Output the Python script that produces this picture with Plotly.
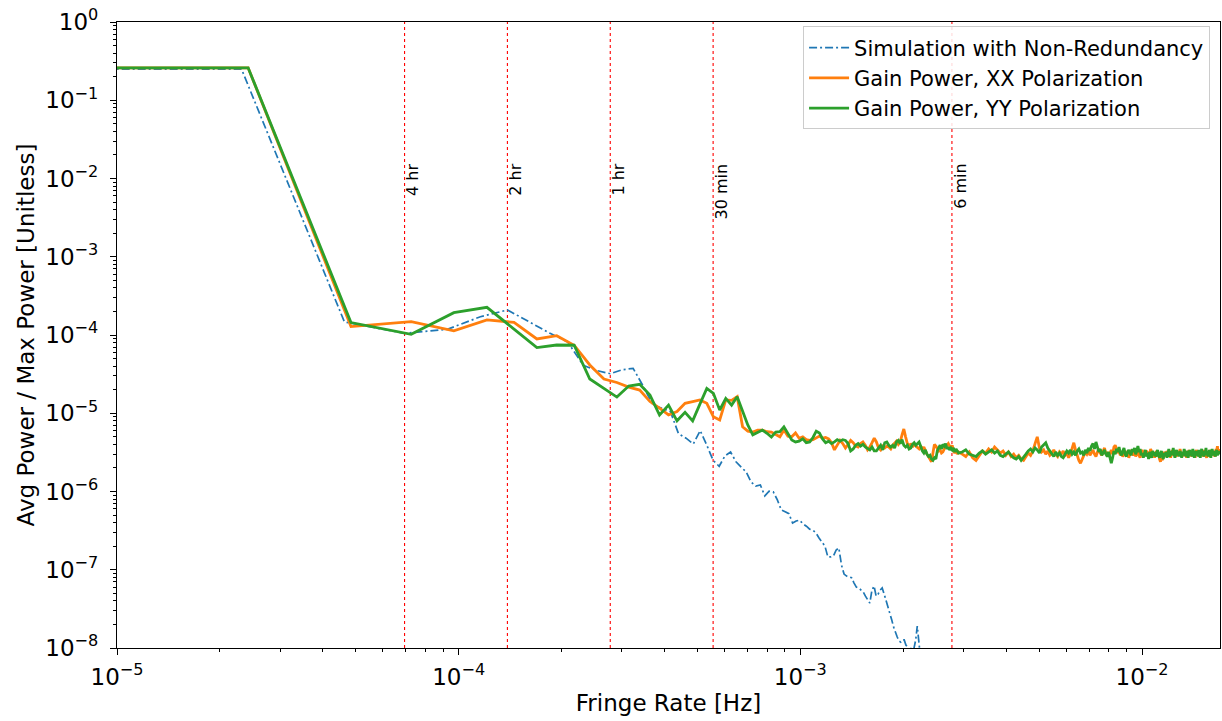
import numpy as np
import plotly.graph_objects as go

# ---------------- data ----------------
# Simulation (blue): fringe-rate bins j * 1/(12 hr)
SIM_DF = 1.0 / (12 * 3600.0)
sim_power = [
    0.25, 0.25, 1.47e-4, 1.05e-4, 1.18e-4, 1.71e-4, 2.09e-4, 1.44e-4, 1.05e-4, 8.2e-5,
    4.1e-5, 3.5e-5, 3.2e-5, 3.6e-5, 3.75e-5, 2.2e-5, 1.27e-5, 1.16e-5, 1.05e-5, 5.5e-6,
    4.8e-6, 4.05e-6, 6.0e-6, 3.9e-6, 2.5e-6, 2.1e-6, 2.85e-6, 3.2e-6, 2.4e-6, 2.05e-6,
    1.77e-6, 1.32e-6, 1.17e-6, 1.21e-6, 8.8e-7, 1.01e-6, 9.9e-7, 7.8e-7, 5.8e-7, 5.5e-7,
    5.2e-7, 3.95e-7, 4.2e-7, 4.3e-7, 3.85e-7, 3.6e-7, 3.3e-7, 3.2e-7, 2.95e-7, 2.55e-7,
    2.26e-7, 2.0e-7, 1.46e-7, 1.46e-7, 1.5e-7, 1.79e-7, 1.9e-7, 1.15e-7, 8.8e-8, 8.3e-8,
    8.1e-8, 7.9e-8, 6.8e-8, 6.0e-8, 5.85e-8, 5.5e-8, 5.2e-8, 4.6e-8, 4.1e-8, 3.75e-8,
    5.5e-8, 6.2e-8, 4.6e-8, 4.9e-8, 5.5e-8, 5.85e-8, 4.9e-8, 4.1e-8, 3.4e-8, 2.8e-8,
    2.28e-8, 1.85e-8, 1.55e-8, 1.38e-8, 1.23e-8, 1.19e-8, 1.27e-8, 1.27e-8, 1.09e-8, 1.03e-8,
    9e-9, 1.0e-8, 8e-9, 1.0e-8, 1.27e-8, 1.9e-8, 1.09e-8, 7e-9, 5e-9, 4e-9,
]

# Gain power (orange / green): fringe-rate bins k * GAIN_DF
GAIN_DF = 2.42e-5
gain_bins = list(range(0, 121)) + list(range(123, 700, 3))

xx_low = [  # k = 0..40
    0.26, 0.26, 1.28e-4, 1.48e-4, 1.13e-4, 1.56e-4, 1.45e-4, 8.9e-5, 9.8e-5, 7.4e-5,
    4.14e-5, 2.74e-5, 2.47e-5, 2.16e-5, 1.98e-5, 1.41e-5, 1.16e-5, 9.5e-6, 1.05e-5, 1.34e-5,
    1.41e-5, 1.48e-5, 1.34e-5, 9.0e-6, 8.2e-6, 1.48e-5, 1.46e-5, 1.63e-5, 6.7e-6, 5.9e-6,
    5.75e-6, 6.1e-6, 6.1e-6, 5.8e-6, 5.75e-6, 5.4e-6, 5.0e-6, 6.1e-6, 5.1e-6, 5.0e-6,
    5.6e-6,
]
xx_mid_1e6 = [  # k = 41..120, units of 1e-6
    4.8, 5.0, 4.6, 4.5, 4.6, 4.9, 5.1, 4.8, 4.9, 4.7,
    4.2, 3.4, 4.0, 4.5, 4.1, 3.6, 4.0, 4.5, 4.2, 3.8,
    3.7, 4.1, 4.3, 3.9, 3.4, 3.7, 4.2, 4.8, 4.3, 3.6,
    3.4, 3.8, 3.6, 3.8, 3.7, 3.5, 3.9, 4.1, 4.4, 4.0,
    4.3, 5.3, 6.3, 5.0, 4.1, 3.9, 4.0, 3.7, 4.1, 3.8,
    3.6, 3.5, 3.8, 3.4, 3.7, 3.3, 3.0, 2.8, 2.6, 2.4,
    3.1, 4.0, 3.8, 3.5, 3.3, 3.4, 3.1, 3.2, 3.5, 3.8,
    3.9, 4.1, 3.8, 3.6, 3.9, 3.3, 3.1, 3.4, 3.0, 3.2,
]
xx_high_1e6 = [  # k = 123..699 step 3, units of 1e-6
    3.0, 2.8, 3.2, 2.7, 2.5, 2.9, 3.3, 3.1, 3.5, 3.2,
    3.7, 3.4, 3.1, 3.3, 2.9, 3.2, 2.8, 3.0, 2.7, 2.9,
    2.6, 2.5, 2.8, 3.1, 2.9, 3.3, 4.1, 5.0, 3.6, 3.2,
    3.4, 3.0, 3.3, 2.9, 3.1, 3.4, 3.0, 2.8, 3.2, 3.0,
    3.3, 2.9, 3.1, 2.7, 3.0, 3.5, 4.2, 3.4, 2.8, 2.5,
    2.3, 2.6, 2.9, 3.2, 3.0, 3.3, 2.9, 3.1, 3.4, 3.0,
    2.8, 3.2, 3.5, 3.1, 2.9, 3.3, 3.6, 3.0, 3.2, 2.8,
    3.1, 3.4, 3.0, 3.7, 3.9, 3.4, 3.1, 3.3, 2.9, 3.2,
    2.8, 3.0, 3.3, 2.9, 3.1, 2.7, 3.0, 3.4, 3.1, 2.9,
    3.2, 2.8, 3.0, 3.3, 2.9, 2.7, 3.1, 3.4, 3.0, 3.2,
    2.9, 3.3, 3.1, 2.8, 3.0, 3.5, 3.2, 2.9, 3.1, 2.7,
    3.0, 3.3, 2.8, 3.1, 2.6, 2.4, 2.7, 2.5, 2.9, 3.2,
    3.0, 2.8, 3.3, 3.1, 2.9, 3.2, 2.7, 3.0, 3.4, 3.1,
    2.9, 3.2, 3.0, 2.8, 3.3, 3.1, 2.9, 3.5, 3.0, 3.2,
    2.8, 3.1, 2.9, 3.3, 3.0, 2.7, 3.2, 2.9, 3.4, 3.0,
    3.1, 2.8, 3.2, 2.9, 3.3, 3.0, 2.7, 3.1, 3.4, 2.9,
    3.2, 3.0, 2.8, 3.3, 3.1, 2.9, 3.2, 2.8, 3.0, 3.4,
    3.1, 2.9, 2.7, 3.0, 3.3, 2.8, 3.1, 3.4, 3.0, 3.2,
    2.9, 3.1, 3.3, 3.0, 2.8, 3.2, 3.5, 3.4, 3.8, 3.1,
    3.4, 3.2, 3.5,
]

yy_low = [  # k = 0..40
    0.26, 0.26, 1.44e-4, 1.02e-4, 1.93e-4, 2.26e-4, 1.19e-4, 6.9e-5, 7.45e-5, 7.4e-5,
    2.74e-5, 2.1e-5, 1.61e-5, 2.23e-5, 2.34e-5, 1.71e-5, 9.5e-6, 1.27e-5, 8.0e-6, 1.03e-5,
    8.0e-6, 1.31e-5, 2.08e-5, 1.8e-5, 1.1e-5, 1.55e-5, 1.27e-5, 1.63e-5, 1.1e-5, 7.1e-6,
    5.3e-6, 5.75e-6, 6.1e-6, 5.55e-6, 4.97e-6, 5.75e-6, 5.8e-6, 6.7e-6, 5.55e-6, 4.55e-6,
    4.3e-6,
]
yy_mid_1e6 = [  # k = 41..120, units of 1e-6
    4.4, 4.7, 4.2, 4.3, 4.9, 5.9, 5.6, 4.7, 4.2, 4.4,
    4.1, 4.3, 4.6, 4.4, 4.6, 4.5, 4.1, 3.3, 3.5, 3.9,
    4.1, 3.8, 4.0, 3.7, 3.5, 3.4, 3.7, 3.3, 3.3, 3.6,
    3.9, 3.4, 4.2, 4.3, 3.9, 3.7, 3.9, 3.6, 4.3, 4.5,
    4.1, 4.6, 3.9, 3.7, 3.9, 3.5, 3.6, 4.0, 4.2, 3.9,
    4.1, 4.3, 3.8, 3.3, 3.1, 3.4, 3.0, 2.8, 2.9, 2.6,
    2.5, 2.7, 2.6, 3.3, 3.6, 3.9, 3.5, 4.0, 3.8, 4.1,
    3.5, 3.7, 3.4, 3.6, 3.4, 3.6, 3.2, 3.5, 3.3, 3.1,
]
yy_high_1e6 = [  # k = 123..699 step 3, units of 1e-6
    3.2, 3.4, 3.0, 2.9, 2.8, 3.1, 3.3, 3.0, 3.2, 3.4,
    3.1, 3.3, 2.9, 2.8, 3.0, 3.2, 2.9, 2.7, 2.6, 2.8,
    2.5, 2.7, 3.0, 3.3, 3.5, 3.2, 3.6, 3.4, 3.1, 3.7,
    3.9, 4.2, 3.6, 3.3, 3.0, 2.8, 3.2, 2.9, 3.1, 2.8,
    2.7, 3.0, 3.3, 3.1, 3.4, 3.0, 3.2, 2.9, 3.3, 3.5,
    3.1, 3.2, 2.9, 3.4, 3.1, 3.6, 3.3, 3.8, 4.1, 3.5,
    4.3, 3.7, 3.2, 3.5, 2.9, 3.1, 3.4, 3.0, 2.8, 3.2,
    2.6, 2.3, 2.7, 3.3, 3.0, 3.5, 3.2, 3.7, 3.1, 2.9,
    3.3, 3.6, 3.0, 2.8, 3.2, 3.4, 3.1, 2.9, 3.5, 3.2,
    3.6, 3.0, 3.3, 3.8, 3.2, 3.5, 2.9, 3.1, 2.7, 3.0,
    3.4, 2.8, 3.1, 2.6, 3.2, 3.0, 2.7, 3.3, 2.9, 3.2,
    2.8, 3.1, 3.4, 2.9, 2.7, 3.0, 3.3, 2.8, 2.6, 3.1,
    2.9, 3.2, 2.7, 3.0, 3.5, 2.8, 3.1, 3.3, 2.9, 3.6,
    3.0, 2.7, 3.2, 3.4, 2.9, 3.1, 2.8, 3.3, 3.0, 2.7,
    3.2, 2.9, 3.5, 3.0, 2.8, 3.3, 3.1, 2.7, 3.0, 3.4,
    2.9, 3.2, 2.8, 3.5, 3.0, 2.7, 3.1, 3.3, 2.9, 3.2,
    2.8, 3.4, 3.0, 2.7, 3.2, 3.5, 2.9, 3.1, 2.8, 3.3,
    3.0, 3.6, 2.9, 3.2, 2.8, 3.1, 3.4, 3.0, 2.7, 3.2,
    3.5, 3.1, 2.9, 3.3, 3.0, 2.8, 3.2, 3.4, 2.9, 3.1,
    3.3, 3.0, 3.2,
]

# Reference timescales (vertical markers)
period_labels = ["4 hr", "2 hr", "1 hr", "30 min", "6 min"]
period_seconds = [4 * 3600, 2 * 3600, 3600, 1800, 360]

# Tick labels
x_tick_vals = [1e-5, 1e-4, 1e-3, 1e-2]
x_tick_text = ["10<sup>\u22125</sup>", "10<sup>\u22124</sup>", "10<sup>\u22123</sup>", "10<sup>\u22122</sup>"]
y_tick_vals = [1e-8, 1e-7, 1e-6, 1e-5, 1e-4, 1e-3, 1e-2, 1e-1, 1e0]
y_tick_text = ["10<sup>\u22128</sup>", "10<sup>\u22127</sup>", "10<sup>\u22126</sup>", "10<sup>\u22125</sup>",
               "10<sup>\u22124</sup>", "10<sup>\u22123</sup>", "10<sup>\u22122</sup>", "10<sup>\u22121</sup>",
               "10<sup>0</sup>"]

# ---------------- build ----------------
sim_f = np.arange(len(sim_power)) * SIM_DF
gain_f = np.array(gain_bins) * GAIN_DF
xx_power = list(xx_low) + [v * 1e-6 for v in xx_mid_1e6] + [v * 1e-6 for v in xx_high_1e6]
yy_power = list(yy_low) + [v * 1e-6 for v in yy_mid_1e6] + [v * 1e-6 for v in yy_high_1e6]

# zero fringe rate is clipped to a tiny positive value on the log axis (like matplotlib's clip)
CLIP = 1e-7
sim_fx = np.where(sim_f > 0, sim_f, CLIP)
gain_fx = np.where(gain_f > 0, gain_f, CLIP)

FONT = "DejaVu Sans"
fig = go.Figure()

# vertical markers
for lab, sec in zip(period_labels, period_seconds):
    fr = 1.0 / sec
    fig.add_trace(go.Scatter(x=[fr, fr], y=[1e-8, 1e0], mode="lines",
                             line=dict(color="red", width=1.1, dash="dot"),
                             showlegend=False, hoverinfo="skip"))
    fig.add_annotation(x=np.log10(fr), y=0.775, xref="x", yref="paper", text=lab,
                       textangle=-90, xanchor="left", yanchor="top", showarrow=False,
                       font=dict(family=FONT, size=16, color="black"), borderpad=0, xshift=-2)

fig.add_trace(go.Scatter(x=sim_fx, y=sim_power, mode="lines",
                         name="Simulation with Non-Redundancy",
                         line=dict(color="#1f77b4", width=1.7, dash="8px,3px,2px,3px")))
fig.add_trace(go.Scatter(x=gain_fx, y=xx_power, mode="lines",
                         name="Gain Power, XX Polarization",
                         line=dict(color="#ff7f0e", width=2.8)))
fig.add_trace(go.Scatter(x=gain_fx, y=yy_power, mode="lines",
                         name="Gain Power, YY Polarization",
                         line=dict(color="#2ca02c", width=2.8)))

minor_vals = [m * 10.0 ** e for e in range(-9, 1) for m in range(2, 10)]

axis_common = dict(type="log", showgrid=False, zeroline=False, showline=True,
                   linecolor="black", linewidth=1.2, mirror=True, automargin=False,
                   ticks="outside", ticklen=6, tickwidth=1.1, tickcolor="black",
                   ticklabeloverflow="allow",
                   tickfont=dict(family=FONT, size=23, color="black"),
                   minor=dict(tickmode="array", tickvals=minor_vals, ticks="outside",
                              ticklen=3, tickwidth=0.9, tickcolor="black", showgrid=False))

fig.update_layout(
    width=1222, height=721,
    margin=dict(l=117, r=2, t=22, b=73),
    paper_bgcolor="white", plot_bgcolor="white",
    font=dict(family=FONT, color="black"),
    xaxis=dict(axis_common, range=[-5, float(np.log10(gain_f.max()))],
               tickmode="array", tickvals=x_tick_vals, ticktext=x_tick_text,
               ticklabelstandoff=2,
               title=dict(text="Fringe Rate [Hz]", font=dict(family=FONT, size=23), standoff=6)),
    yaxis=dict(axis_common, range=[-8, 0],
               tickmode="array", tickvals=y_tick_vals, ticktext=y_tick_text,
               ticklabelstandoff=7,
               title=dict(text="Avg Power / Max Power [Unitless]", font=dict(family=FONT, size=23), standoff=4)),
    legend=dict(x=0.991, y=0.993, xanchor="right", yanchor="top",
                bgcolor="rgba(255,255,255,0.85)", bordercolor="#cccccc", borderwidth=1,
                font=dict(family=FONT, size=21, color="black"), itemwidth=40),
    showlegend=True,
)

# remove the page's default 8px body margin so the figure fills the window exactly
fig.write_html("out.html", config={"displayModeBar": False},
               post_script="document.body.style.margin='0';")
